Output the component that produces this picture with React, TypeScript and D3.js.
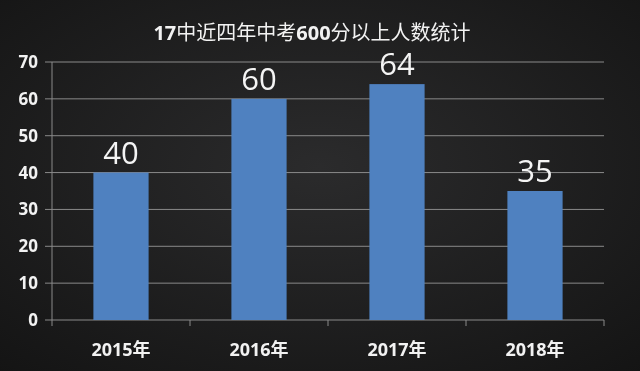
import React, { useEffect, useRef } from 'react';
import * as d3 from 'd3';

const titleParts = ['17', '中近四年中考', '600', '分以上人数统计'];
const years = ['2015年', '2016年', '2017年', '2018年'];
const counts = [40, 60, 64, 35];
const yTicks = [0, 10, 20, 30, 40, 50, 60, 70];

const W = 640;
const H = 371;

export default function App() {
  const ref = useRef<SVGSVGElement>(null);

  useEffect(() => {
    const svg = d3.select(ref.current);
    svg.selectAll('*').remove();

    const margin = { top: 62, right: 36, bottom: 51, left: 52 };
    const innerW = W - margin.left - margin.right;
    const innerH = H - margin.top - margin.bottom;

    // background with a soft vignette
    const defs = svg.append('defs');
    const bg = defs.append('radialGradient').attr('id', 'bg')
      .attr('cx', '50%').attr('cy', '45%').attr('r', '75%');
    bg.append('stop').attr('offset', '0%').attr('stop-color', '#2b2b2c');
    bg.append('stop').attr('offset', '100%').attr('stop-color', '#141414');
    svg.append('rect').attr('width', W).attr('height', H).attr('fill', 'url(#bg)');

    // title: digits bold, chinese regular
    svg.append('text')
      .attr('x', 312)
      .attr('y', 40)
      .attr('text-anchor', 'middle')
      .attr('fill', '#f2f2f2')
      .style('font-family', '"Open Sans", "Noto Sans CJK SC", sans-serif')
      .style('font-size', '20px')
      .selectAll('tspan')
      .data(titleParts)
      .enter().append('tspan')
      .style('font-weight', (d, i) => (i % 2 === 0 ? 700 : 400))
      .text(d => d);

    const g = svg.append('g').attr('transform', `translate(${margin.left},${margin.top})`);

    const x = d3.scaleBand().domain(years).range([0, innerW]).paddingInner(0.6).paddingOuter(0.3);
    const y = d3.scaleLinear().domain([0, 70]).range([innerH, 0]);

    // gridlines
    g.append('g')
      .selectAll('line')
      .data(yTicks)
      .enter().append('line')
      .attr('x1', -7)
      .attr('x2', innerW)
      .attr('y1', d => y(d))
      .attr('y2', d => y(d))
      .attr('stroke', '#8a8a8a')
      .attr('stroke-width', 1);

    // y axis line
    g.append('line')
      .attr('x1', 0).attr('x2', 0)
      .attr('y1', y(70)).attr('y2', innerH)
      .attr('stroke', '#8a8a8a');

    // category ticks below axis
    const step = x.step();
    g.append('g')
      .selectAll('line')
      .data(d3.range(years.length + 1))
      .enter().append('line')
      .attr('x1', i => i * step)
      .attr('x2', i => i * step)
      .attr('y1', innerH)
      .attr('y2', innerH + 6)
      .attr('stroke', '#8a8a8a');

    // bars
    g.selectAll('.bar')
      .data(counts)
      .enter().append('rect')
      .attr('class', 'bar')
      .attr('x', (d, i) => x(years[i]) as number)
      .attr('y', d => y(d))
      .attr('width', x.bandwidth())
      .attr('height', d => innerH - y(d))
      .attr('fill', '#4f81c0');

    // value labels
    g.selectAll('.val')
      .data(counts)
      .enter().append('text')
      .attr('class', 'val')
      .attr('x', (d, i) => (x(years[i]) as number) + x.bandwidth() / 2)
      .attr('y', d => y(d) - 9)
      .attr('text-anchor', 'middle')
      .attr('fill', '#f4f4f4')
      .style('font-family', '"Open Sans", sans-serif')
      .style('font-size', '31px')
      .text(d => d);

    // y tick labels
    g.selectAll('.ytick')
      .data(yTicks)
      .enter().append('text')
      .attr('class', 'ytick')
      .attr('x', -14)
      .attr('y', d => y(d))
      .attr('dy', '0.35em')
      .attr('text-anchor', 'end')
      .attr('fill', '#f2f2f2')
      .style('font-family', '"Open Sans", sans-serif')
      .style('font-size', '17px')
      .style('font-weight', 700)
      .text(d => d);

    // x labels
    g.selectAll('.xlab')
      .data(years)
      .enter().append('text')
      .attr('class', 'xlab')
      .attr('x', d => (x(d) as number) + x.bandwidth() / 2)
      .attr('y', innerH + 36)
      .attr('text-anchor', 'middle')
      .attr('fill', '#f2f2f2')
      .style('font-family', '"Open Sans", "Noto Sans CJK SC", sans-serif')
      .style('font-size', '18px')
      .style('font-weight', 700)
      .text(d => d);
  }, []);

  return (
    <div style={{ position: 'fixed', left: 0, top: 0, width: W, height: H }}>
      <svg ref={ref} width={W} height={H} style={{ display: 'block' }} />
    </div>
  );
}
